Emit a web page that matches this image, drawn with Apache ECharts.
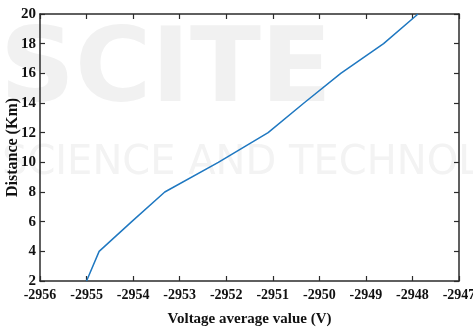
<!DOCTYPE html>
<html>
<head>
<meta charset="utf-8">
<script src="https://cdn.jsdelivr.net/npm/echarts@6/dist/echarts.min.js"></script>
<style>
  html, body { margin: 0; padding: 0; background: #fff; }
  #chart { width: 473px; height: 332px; }
</style>
</head>
<body>
<div id="chart"></div>
<script>
// values
const voltage = [-2955.0, -2954.73, -2954.03, -2953.32, -2952.17, -2951.1, -2950.33, -2949.54, -2948.62, -2947.88];
const distance = [2, 4, 6, 8, 10, 12, 14, 16, 18, 20];

const xTitle = 'Voltage average value (V)';
const yTitle = 'Distance (Km)';

const axisColor = '#2b2b2b';
const font = '"Liberation Serif", "Times New Roman", serif';

const chart = echarts.init(document.getElementById('chart'));

const boxAxis = {
  axisLine: { show: true, lineStyle: { color: axisColor, width: 1.5 } },
  axisTick: { show: true, inside: true, length: 5, lineStyle: { color: axisColor, width: 1.2 } },
  splitLine: { show: false },
};

chart.setOption({
  animation: false,
  backgroundColor: '#fff',
  // faint publisher watermark behind the plot
  graphic: [
    {
      type: 'text', z: -10, left: 0, top: 22, silent: true,
      style: { text: 'SCITE', font: 'bold 104px "DejaVu Sans", sans-serif', fill: '#f1f1f1' },
    },
    {
      type: 'text', z: -10, left: 2, top: 144, silent: true,
      style: { text: 'SCIENCE AND TECHNOLOGY', font: '40px "DejaVu Sans", sans-serif', fill: '#f3f3f3' },
    },
  ],
  grid: { left: 40, right: 14, top: 14, bottom: 51, containLabel: false, outerBoundsMode: 'none' },
  xAxis: [
    Object.assign({}, boxAxis, {
      type: 'value', min: -2956, max: -2947, interval: 1, position: 'bottom',
      name: xTitle, nameLocation: 'middle', nameGap: 31, nameMoveOverlap: false,
      nameTextStyle: { fontFamily: font, fontWeight: 'bold', fontSize: 15, color: '#111' },
      axisLabel: {
        margin: 7, fontFamily: font, fontWeight: 'bold', fontSize: 14, color: '#111',
        formatter: (v) => String(v),
      },
    }),
    Object.assign({}, boxAxis, {
      type: 'value', min: -2956, max: -2947, interval: 1, position: 'top',
      axisLabel: { show: false },
    }),
  ],
  yAxis: [
    Object.assign({}, boxAxis, {
      type: 'value', min: 2, max: 20, interval: 2, position: 'left',
      name: yTitle, nameLocation: 'middle', nameGap: 19, nameMoveOverlap: false,
      nameTextStyle: { fontFamily: font, fontWeight: 'bold', fontSize: 16, color: '#111' },
      axisLabel: {
        margin: 4, fontFamily: font, fontWeight: 'bold', fontSize: 15, color: '#111',
      },
    }),
    Object.assign({}, boxAxis, {
      type: 'value', min: 2, max: 20, interval: 2, position: 'right',
      axisLabel: { show: false },
    }),
  ],
  series: [
    {
      type: 'line',
      data: voltage.map((v, i) => [v, distance[i]]),
      showSymbol: false,
      clip: true,
      lineStyle: { color: '#1f78c1', width: 1.5 },
    },
  ],
});
</script>
</body>
</html>
